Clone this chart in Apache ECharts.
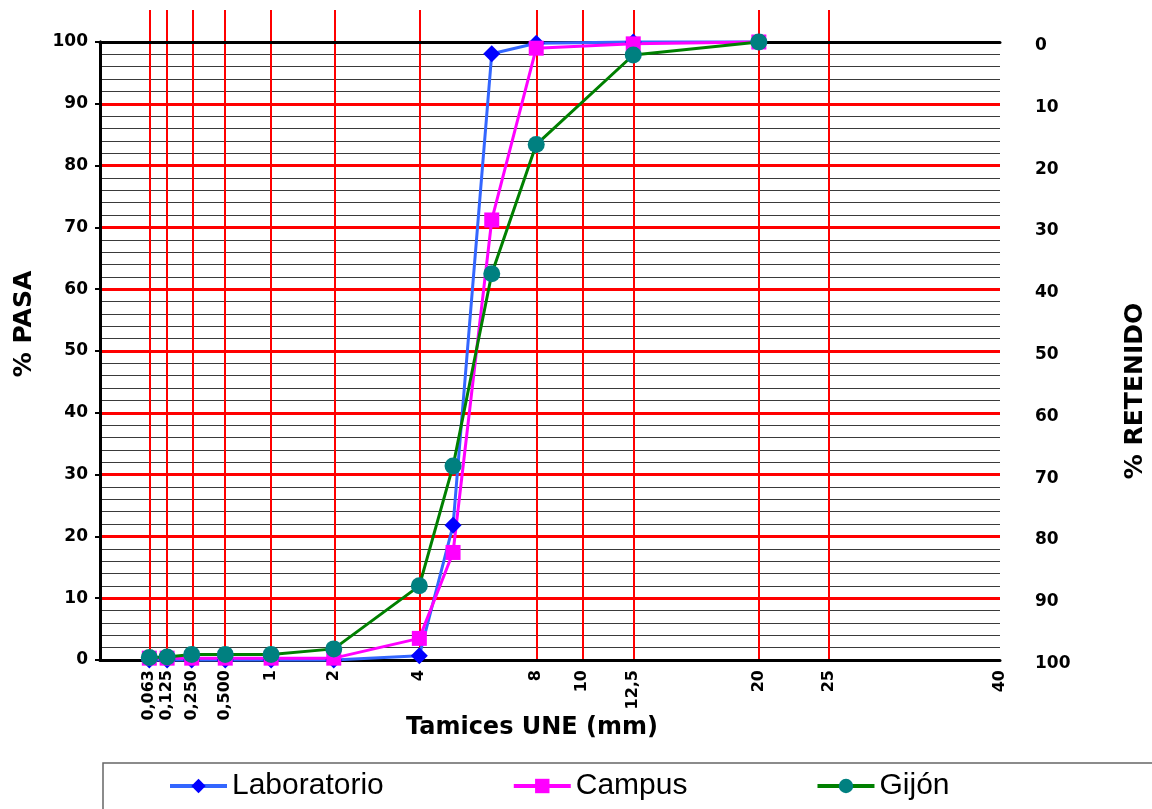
<!DOCTYPE html>
<html><head><meta charset="utf-8">
<script src="https://cdn.jsdelivr.net/npm/echarts@6/dist/echarts.min.js"></script>
<style>html,body{margin:0;padding:0;background:#fff}#c{width:1152px;height:809px}</style>
</head><body><div id="c"></div>
<script>
// Sieve sizes (mm) where values were measured
const sieveSizes = [0.063, 0.125, 0.25, 0.5, 1, 2, 4, 5, 6.3, 8, 12.5, 20];
// % passing for each sample
const laboratorio = [0, 0, 0, 0, 0, 0, 0.7, 21.8, 98.1, 99.8, 100, 100];
const campus      = [0.3, 0.3, 0.3, 0.3, 0.3, 0.3, 3.5, 17.4, 71.2, 99.0, 99.7, 100];
const gijon       = [0.4, 0.5, 0.9, 0.9, 0.9, 1.8, 12.0, 31.4, 62.5, 83.4, 97.9, 100];
// Sieves marked by red vertical lines
const gridSieves = [0.063, 0.125, 0.25, 0.5, 1, 2, 4, 8, 10, 12.5, 20, 25];
// X tick values and labels
const tickValues = [0.063, 0.125, 0.25, 0.5, 1, 2, 4, 8, 10, 12.5, 20, 25, 40];
const tickLabels = ['0,063', '0,125', '0,250', '0,500', '1', '2', '4', '8', '10', '12,5', '20', '25', '40'];
const seriesNames = ['Laboratorio', 'Campus', 'Gijón'];

// Grading-chart scale: x = d^0.45
const EXP = 0.45;
const t = d => Math.pow(d, EXP);
const XMAX = t(40);

const chart = echarts.init(document.getElementById('c'), null, {renderer: 'canvas'});
const boldFont = 'DejaVu Sans';

function labelFor(v) {
  let best = 0, bd = Infinity;
  tickValues.forEach((tv, i) => { const d = Math.abs(t(tv) - v); if (d < bd) { bd = d; best = i; } });
  return tickLabels[best];
}

const redLineSeries = (xi, yi) => ({
  type: 'line', xAxisIndex: xi, yAxisIndex: yi, silent: true, z: 1,
  data: gridSieves.map(v => [t(v), 0]), showSymbol: false, symbol: 'none',
  lineStyle: {opacity: 0}, clip: false,
  markLine: {
    silent: true, symbol: 'none', label: {show: false},
    lineStyle: {color: '#FF0000', width: 2, type: 'solid'},
    emphasis: {disabled: true},
    data: gridSieves.map(v => ({xAxis: t(v)}))
  }
});

const dataSeries = (name, values, symbol, size, lineColor, markColor) => ({
  name, type: 'line', xAxisIndex: 0, yAxisIndex: 0, z: 10, clip: false,
  data: sieveSizes.map((s, i) => [t(s), values[i]]),
  symbol, symbolSize: size, showAllSymbol: true,
  lineStyle: {color: lineColor, width: 3},
  itemStyle: {color: markColor, borderWidth: 0}
});

const option = {
  animation: false,
  backgroundColor: '#fff',
  grid: [
    {left: 100, right: 152, top: 42, bottom: 149},
    {left: 100, right: 152, top: 10, height: 32}
  ],
  xAxis: [
    {gridIndex: 0, type: 'value', min: 0, max: XMAX, position: 'bottom', z: 5,
     axisLine: {show: true, onZero: false, lineStyle: {color: '#000', width: 3}},
     axisTick: {show: false}, splitLine: {show: false},
     axisLabel: {customValues: tickValues.map(t), formatter: labelFor, rotate: 90, margin: 10,
       fontSize: 16, fontWeight: 'bold', fontFamily: boldFont, color: '#000'}},
    {gridIndex: 0, type: 'value', min: 0, max: XMAX, position: 'top', z: 5,
     axisLine: {show: true, onZero: false, lineStyle: {color: '#000', width: 3}},
     axisTick: {show: false}, axisLabel: {show: false}, splitLine: {show: false}},
    {gridIndex: 1, type: 'value', min: 0, max: XMAX, show: false}
  ],
  yAxis: [
    {gridIndex: 0, type: 'value', min: 0, max: 100, interval: 10, position: 'left',
     axisLine: {show: true, lineStyle: {color: '#000', width: 3}},
     axisTick: {show: true, length: 5, lineStyle: {color: '#000', width: 2}},
     minorTick: {show: false, splitNumber: 5},
     splitLine: {show: true, lineStyle: {color: '#FF0000', width: 3}},
     minorSplitLine: {show: true, lineStyle: {color: '#3a3a3a', width: 1}},
     axisLabel: {margin: 12, fontSize: 17, fontWeight: 'bold', fontFamily: boldFont, color: '#000'}},
    {gridIndex: 0, type: 'value', min: 0, max: 100, interval: 10, inverse: true, position: 'right', z: 5,
     axisLine: {show: true, lineStyle: {color: '#000', width: 3}},
     axisTick: {show: false}, splitLine: {show: false},
     axisLabel: {margin: 35, verticalAlign: 'top', padding: [-5, 0, 0, 0], fontSize: 17, fontWeight: 'bold', fontFamily: boldFont, color: '#000'}},
    {gridIndex: 1, type: 'value', min: 0, max: 1, show: false}
  ],
  legend: {
    data: seriesNames,
    left: 168, top: 771,
    padding: 0,
    itemGap: 128, itemWidth: 57, itemHeight: 18,
    selectedMode: false,
    lineStyle: {width: 4},
    textStyle: {fontSize: 30, fontFamily: 'Liberation Sans, Arial', color: '#000'}
  },
  graphic: [
    {type: 'rect', shape: {x: 103, y: 763, width: 1100, height: 80}, silent: true,
     style: {fill: 'none', stroke: '#666', lineWidth: 1.5}},
    {type: 'text', x: 24, y: 324, rotation: Math.PI / 2,
     style: {text: '% PASA', font: 'bold 25px "DejaVu Sans"', fill: '#000', textAlign: 'center', textVerticalAlign: 'middle'}},
    {type: 'text', x: 1135, y: 391, rotation: Math.PI / 2,
     style: {text: '% RETENIDO', font: 'bold 25px "DejaVu Sans"', fill: '#000', textAlign: 'center', textVerticalAlign: 'middle'}},
    {type: 'text', x: 532, y: 728,
     style: {text: 'Tamices UNE (mm)', font: 'bold 24px "DejaVu Sans"', fill: '#000', textAlign: 'center', textVerticalAlign: 'middle'}}
  ],
  series: [
    redLineSeries(0, 0),
    redLineSeries(2, 2),
    dataSeries('Laboratorio', laboratorio, 'diamond', 17, '#3366FF', '#0000FF'),
    dataSeries('Campus', campus, 'rect', 15, '#FF00FF', '#FF00FF'),
    dataSeries('Gijón', gijon, 'circle', 17, '#008000', '#008080')
  ]
};
chart.setOption(option);
</script>
</body></html>
